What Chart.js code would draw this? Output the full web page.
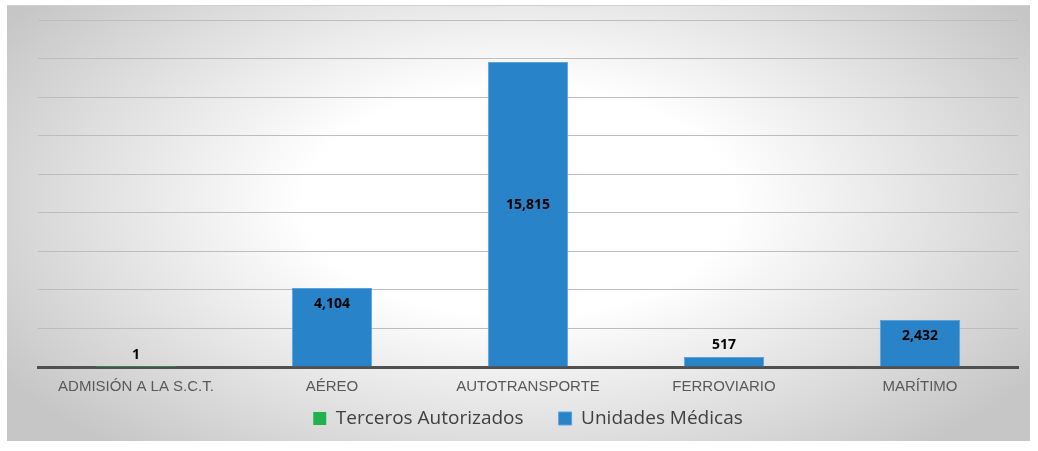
<!DOCTYPE html>
<html>
<head>
<meta charset="utf-8">
<script src="https://cdn.jsdelivr.net/npm/chart.js@4.4.1/dist/chart.umd.min.js"></script>
<style>
    html, body { margin: 0; padding: 0; background: #fff; }
    #box {
        position: absolute; left: 7px; top: 5px; width: 1023px; height: 435px;
        background: radial-gradient(ellipse 60% 75% at 50% 45%, #ffffff 35%, #c6c6c6 100%);
        border-top: 1px solid #d0d0d0;
    }
    #chart { position: absolute; left: 0; top: 0; }
</style>
</head>
<body>
<div id="box"><canvas id="chart" width="1023" height="435"></canvas></div>
<script>
    const categories = ["ADMISIÓN A LA S.C.T.", "AÉREO", "AUTOTRANSPORTE", "FERROVIARIO", "MARÍTIMO"];
    const terceros = [1, 0, 0, 0, 0];
    const unidades = [0, 4104, 15815, 517, 2432];

    // etiquetas de valor, dentro o encima de la barra segun su altura
    const valueLabels = {
        id: "valueLabels",
        afterDatasetsDraw(chart) {
            const ctx = chart.ctx;
            const base = chart.scales.y.getPixelForValue(0);
            ctx.save();
            ctx.font = "bold 14px 'Open Sans'";
            ctx.fillStyle = "#000";
            ctx.textAlign = "center";
            ctx.textBaseline = "middle";
            chart.data.datasets.forEach((ds, i) => {
                chart.getDatasetMeta(i).data.forEach((bar, j) => {
                    const v = ds.data[j];
                    if (!v) return;
                    const h = base - bar.y;
                    let y;
                    if (h > 200) y = bar.y + h * 0.47;
                    else if (h > 30) y = bar.y + 16;
                    else y = bar.y - 12;
                    ctx.fillText(v.toLocaleString("en-US"), bar.x, y);
                });
            });
            ctx.restore();
        }
    };

    // leyenda: reserva poca altura y luego se coloca bajo las etiquetas
    const legendPlace = {
        id: "legendPlace",
        beforeInit(chart) {
            const fit = chart.legend.fit;
            chart.legend.fit = function () {
                fit.call(this);
                this.height = 42;
            };
        },
        afterLayout(chart) {
            const lg = chart.legend;
            lg.top = chart.chartArea.bottom + 7;
            lg.bottom = chart.height;
            lg.height = lg.bottom - lg.top;
        }
    };

    new Chart(document.getElementById("chart"), {
        type: "bar",
        data: {
            labels: categories,
            datasets: [
                { label: "Terceros Autorizados", data: terceros, backgroundColor: "#22b14c", borderWidth: 0 },
                { label: "Unidades Médicas", data: unidades, backgroundColor: "#2883c8", borderColor: "#5aa2db", borderWidth: 1 }
            ]
        },
        options: {
            responsive: false,
            animation: false,
            layout: { padding: { left: 31, right: 12, top: 14, bottom: 0 } },
            datasets: { bar: { grouped: false, categoryPercentage: 1, barPercentage: 0.41 } },
            plugins: {
                legend: {
                    position: "bottom",
                    labels: {
                        boxWidth: 13, boxHeight: 13, padding: 35,
                        color: "#404040",
                        font: { family: "'Open Sans'", size: 19 }
                    }
                },
                tooltip: { enabled: false }
            },
            scales: {
                x: {
                    grid: { display: false },
                    border: { color: "#505050", width: 3 },
                    ticks: { color: "#595959", font: { family: "'Liberation Sans'", size: 15 }, padding: 3 }
                },
                y: {
                    min: 0, max: 18000,
                    ticks: { display: false, stepSize: 2000 },
                    grid: { color: "#bdbdbd", drawTicks: false },
                    border: { display: false },
                    afterFit(axis) { axis.width = 0; }
                }
            }
        },
        plugins: [valueLabels, legendPlace]
    });
</script>
</body>
</html>
